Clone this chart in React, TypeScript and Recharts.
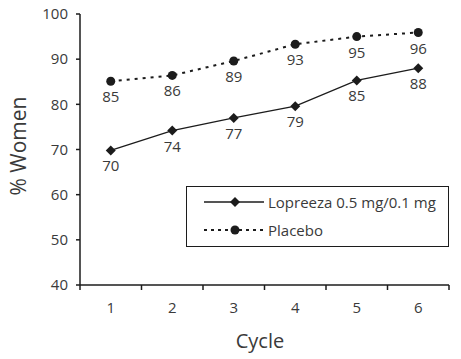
import React from "react";
import { LineChart, Line, XAxis, YAxis, LabelList } from "recharts";

const cycles = [1, 2, 3, 4, 5, 6];
const lopreezaValues = [69.8, 74.2, 77, 79.6, 85.3, 88];
const lopreezaLabels = ["70", "74", "77", "79", "85", "88"];
const placeboValues = [85.1, 86.4, 89.6, 93.3, 95, 95.9];
const placeboLabels = ["85", "86", "89", "93", "95", "96"];
const yTicks = [40, 50, 60, 70, 80, 90, 100];
const xTicks = [0.5, 1, 1.5, 2, 2.5, 3, 3.5, 4, 4.5, 5, 5.5, 6, 6.5];
const seriesNames = ["Lopreeza 0.5 mg/0.1 mg", "Placebo"];

const data = cycles.map((c, i) => ({
  cycle: c,
  lopreeza: lopreezaValues[i],
  placebo: placeboValues[i],
}));

const FONT = "'Open Sans', 'Noto Sans', sans-serif";
const TEXT = "#3a3a3a";
const INK = "#1c1c1c";

const Diamond = (props: any) => {
  const { cx, cy } = props;
  if (cx == null || cy == null) return null;
  const s = 5;
  return (
    <path
      d={`M${cx},${cy - s} L${cx + s},${cy} L${cx},${cy + s} L${cx - s},${cy} Z`}
      fill={INK}
    />
  );
};

const Dot = (props: any) => {
  const { cx, cy } = props;
  if (cx == null || cy == null) return null;
  return <circle cx={cx} cy={cy} r={4.5} fill={INK} />;
};

const makeLabel = (labels: string[]) => (props: any) => {
  const { x, y, index } = props;
  return (
    <text
      x={x}
      y={y + 21}
      textAnchor="middle"
      fontSize={15}
      fontFamily={FONT}
      fill={TEXT}
    >
      {labels[index]}
    </text>
  );
};

const XTick = (props: any) => {
  const { x, y, payload } = props;
  const v = payload.value;
  if (Math.abs(v - Math.round(v)) > 0.01) {
    return <line x1={x} x2={x} y1={y} y2={y + 5} stroke={INK} strokeWidth={1.5} />;
  }
  return (
    <text x={x} y={y + 28} textAnchor="middle" fontSize={15} fontFamily={FONT} fill={TEXT}>
      {v}
    </text>
  );
};

const LegendBox = () => (
  <div
    style={{
      position: "absolute",
      left: 186,
      top: 186,
      width: 261,
      height: 59,
      border: `1.5px solid ${INK}`,
      background: "#fff",
      fontFamily: FONT,
      fontSize: 15,
      color: TEXT,
    }}
  >
    <svg width={80} height={59} style={{ position: "absolute", left: 0, top: 0 }}>
      <line x1={17} x2={77} y1={15} y2={15} stroke={INK} strokeWidth={1.3} />
      <path d="M48,10 L53,15 L48,20 L43,15 Z" fill={INK} />
      <line x1={17} x2={77} y1={43} y2={43} stroke={INK} strokeWidth={2} strokeDasharray="3 4" />
      <circle cx={48} cy={43} r={4.5} fill={INK} />
    </svg>
    <div style={{ position: "absolute", left: 81, top: 4, whiteSpace: "nowrap", lineHeight: "22px" }}>
      {seriesNames[0]}
    </div>
    <div style={{ position: "absolute", left: 81, top: 32, whiteSpace: "nowrap", lineHeight: "22px" }}>
      {seriesNames[1]}
    </div>
  </div>
);

export default function App() {
  return (
    <div style={{ position: "absolute", left: 0, top: 0, width: 461, height: 359, background: "#fff" }}>
      <LineChart
        width={461}
        height={359}
        data={data}
        margin={{ top: 14, right: 12, left: 0, bottom: 0 }}
      >
        <XAxis
          dataKey="cycle"
          type="number"
          domain={[0.5, 6.5]}
          ticks={xTicks}
          interval={0}
          height={74}
          tickLine={false}
          tickSize={0}
          tickMargin={0}
          tick={<XTick />}
          axisLine={{ stroke: INK, strokeWidth: 1.5 }}
          label={{
            content: () => (
              <text x={260} y={348} textAnchor="middle" fontSize={20} fontFamily={FONT} fill={TEXT}>
                Cycle
              </text>
            ),
          }}
        />
        <YAxis
          domain={[40, 100]}
          ticks={yTicks}
          interval={0}
          width={80}
          tickSize={4}
          tickMargin={8}
          tickLine={{ stroke: INK, strokeWidth: 1.5 }}
          axisLine={{ stroke: INK, strokeWidth: 1.5 }}
          tick={{ fontSize: 15, fontFamily: FONT, fill: TEXT }}
          label={{
            content: () => (
              <text
                x={26}
                y={146}
                transform="rotate(-90 26 146)"
                textAnchor="middle"
                fontSize={21}
                fontFamily={FONT}
                fill={TEXT}
              >
                % Women
              </text>
            ),
          }}
        />
        <Line
          name={seriesNames[0]}
          dataKey="lopreeza"
          stroke={INK}
          strokeWidth={1.3}
          dot={<Diamond />}
          activeDot={false}
          isAnimationActive={false}
        >
          <LabelList dataKey="lopreeza" content={makeLabel(lopreezaLabels)} />
        </Line>
        <Line
          name={seriesNames[1]}
          dataKey="placebo"
          stroke={INK}
          strokeWidth={2}
          strokeDasharray="3 5"
          dot={<Dot />}
          activeDot={false}
          isAnimationActive={false}
        >
          <LabelList dataKey="placebo" content={makeLabel(placeboLabels)} />
        </Line>
      </LineChart>
      <LegendBox />
    </div>
  );
}
